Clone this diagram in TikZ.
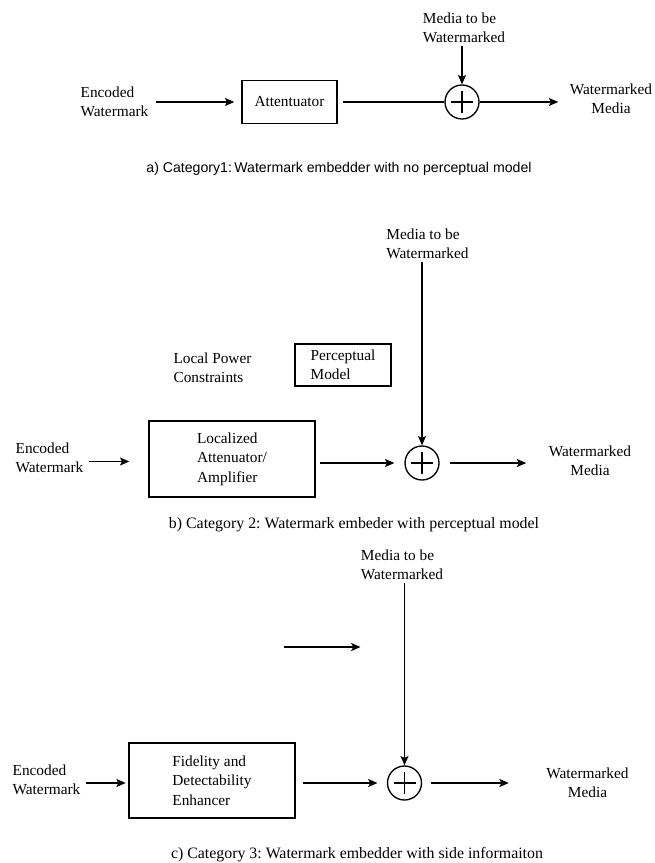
\documentclass[tikz,border=0pt]{standalone}
\usepackage{fontspec}
\setmainfont{Liberation Serif}
\newfontfamily\capsans{Liberation Sans}
\usetikzlibrary{arrows.meta, positioning}
\frenchspacing

\tikzset{
  txt/.style={font=\fontsize{11.5}{14.5}\selectfont, inner sep=0pt},
  blk/.style={draw, font=\fontsize{11.5}{14.5}\selectfont, align=left, inner sep=0pt},
  sum/.style={draw, circle, minimum size=25.5pt, inner sep=0pt,
    path picture={
      \draw ([yshift=-4.5pt]path picture bounding box.north) -- ([yshift=4.5pt]path picture bounding box.south);
      \draw ([xshift=4.5pt]path picture bounding box.west) -- ([xshift=-4.5pt]path picture bounding box.east);
    }},
  arr/.style={-{Stealth[length=7pt, width=6pt, inset=1.5pt]}},
  capsf/.style={font=\capsans\fontsize{10.6}{12}\selectfont, inner sep=0pt},
  capsr/.style={font=\fontsize{11.9}{14}\selectfont, inner sep=0pt}
}

\begin{document}
\begin{tikzpicture}[x=0.75pt, y=-0.75pt, line width=1pt]
\useasboundingbox (0,0) rectangle (655,863);

% a) no perceptual model
\node[txt, align=left] (enc1) at (114.5,102) {Encoded\\Watermark};
\node[blk, minimum width=71.25pt, minimum height=32.25pt] (att) at (289.5,102) {Attentuator};
\node[sum] (sum1) at (462,102) {};
\node[txt, align=center] (out1) at (611,99) {Watermarked\\Media};
\node[txt, align=left] (med1) at (464,27.5) {Media to be\\Watermarked};
\node[capsf] (capa) at (339,169) {a) Category1:\,Watermark embedder with no perceptual model};

\draw[arr, shorten <=5.25pt, shorten >=5.25pt] (enc1.east |- att.west) -- (att.west);
\draw[shorten <=3.75pt] (att.east) -- (sum1.west);
\draw[arr, shorten >=8.25pt] (sum1.east) -- (sum1.east -| out1.west);
\draw[arr, shorten <=2pt] (sum1.north |- med1.south) -- (sum1.north);

% b) perceptual model
\node[txt, align=left] (med2) at (427.5,244) {Media to be\\Watermarked};
\node[txt, align=left] (lpc) at (212.5,367.5) {Local Power\\Constraints};
\node[blk, minimum width=72pt, minimum height=31.5pt] (perc) at (343,365) {Perceptual\\Model};
\node[blk, minimum width=124.5pt, minimum height=57pt] (loc) at (232,459) {Localized\\Attenuator/\\Amplifier};
\node[txt, align=left] (enc2) at (49.5,457.5) {Encoded\\Watermark};
\node[sum] (sum2) at (422,463) {};
\node[txt, align=center] (out2) at (590,460.5) {Watermarked\\Media};
\node[capsr] (capb) at (354,525) {b) Category 2: Watermark embeder with perceptual model};

\draw[arr, shorten <=3.75pt, shorten >=14.25pt] ([yshift=-3pt]enc2.east) -- ([yshift=-3pt]enc2.east -| loc.west);
\draw[arr, shorten <=3pt, shorten >=7.5pt] (loc.east |- sum2.west) -- (sum2.west);
\draw[arr, shorten <=7.5pt, shorten >=16.5pt] (sum2.east) -- (sum2.east -| out2.west);
\draw[arr, shorten <=2pt] (sum2.north |- med2.south) -- (sum2.north);

% c) side information
\node[txt, align=left] (med3) at (402,565) {Media to be\\Watermarked};
\coordinate (side1) at (283.5,647);
\coordinate (side2) at (360.5,647);
\node[blk, minimum width=124.5pt, minimum height=56.25pt] (fid) at (212,780.5) {Fidelity and\\Detectability\\Enhancer};
\node[txt, align=left] (enc3) at (46.5,780) {Encoded\\Watermark};
\node[sum] (sum3) at (404.5,783) {};
\node[txt, align=center] (out3) at (587.5,783) {Watermarked\\Media};
\node[capsr] (capc) at (357,855) {c) Category 3: Watermark embedder with side informaiton};

\draw[arr] (side1) -- (side2);
\draw[arr, shorten <=3.75pt, shorten >=2pt] (enc3.east |- sum3.west) -- (fid.west |- sum3.west);
\draw[arr, shorten <=5.6pt, shorten >=7pt] (fid.east |- sum3.west) -- (sum3.west);
\draw[arr, shorten <=6.75pt, shorten >=27.75pt] (sum3.east) -- (sum3.east -| out3.west);
\draw[arr, shorten <=2pt] (sum3.north |- med3.south) -- (sum3.north);

\end{tikzpicture}
\end{document}
